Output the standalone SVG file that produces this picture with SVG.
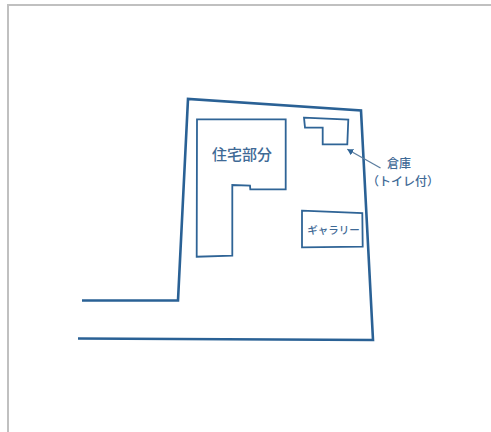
<svg xmlns="http://www.w3.org/2000/svg" width="491" height="432" viewBox="0 0 491 432">
<defs>
<style>
.frame{fill:none;stroke:#c0c0c0;stroke-width:2}
.site{fill:none;stroke:#2a6195;stroke-width:2.6;stroke-linejoin:miter}
.bld{fill:none;stroke:#2f6496;stroke-width:1.8}
.lead{fill:none;stroke:#5b7d9f;stroke-width:1.3}
.tip{fill:#2f6496}
text{font-family:"Noto Sans CJK JP","Noto Sans",sans-serif;font-weight:500;fill:#3f6a96;text-anchor:middle;dominant-baseline:central}
</style>
<marker id="arrow" markerUnits="userSpaceOnUse" markerWidth="8" markerHeight="8" refX="6" refY="3.500" orient="auto"><path class="tip" d="M0 0L6 3.500L0 7Z"/></marker>
</defs>
<rect width="491" height="432" fill="#fff"/>
<path class="frame" d="M8 432V5H491"/>
<g id="site">
<path class="site" d="M82 300.500H178L188 99L361 110.500L373 340L78 338.500"/>
</g>
<g id="house">
<path class="bld" d="M197 119.300H285.700V189.300H250.300L250 185.700L232.300 185V255.700L196.700 256.700Z"/>
<text x="242" y="153" font-size="15">住宅部分</text>
</g>
<g id="storage">
<path class="bld" d="M304 117.700L348.300 119.700L347.300 144.300H322.700V127.700H305Z"/>
<text x="399" y="162.500" font-size="12">倉庫</text>
<text x="403" y="180" font-size="12">（トイレ付）</text>
</g>
<g id="gallery">
<path class="bld" d="M302 210.700L362.300 213L362.700 246.700L302 247.300Z"/>
<text x="333.500" y="229" font-size="10.500">ギャラリー</text>
</g>
<g id="connectors">
<path class="lead" d="M380.500 168L347.300 149.300" marker-end="url(#arrow)"/>
</g>
</svg>
